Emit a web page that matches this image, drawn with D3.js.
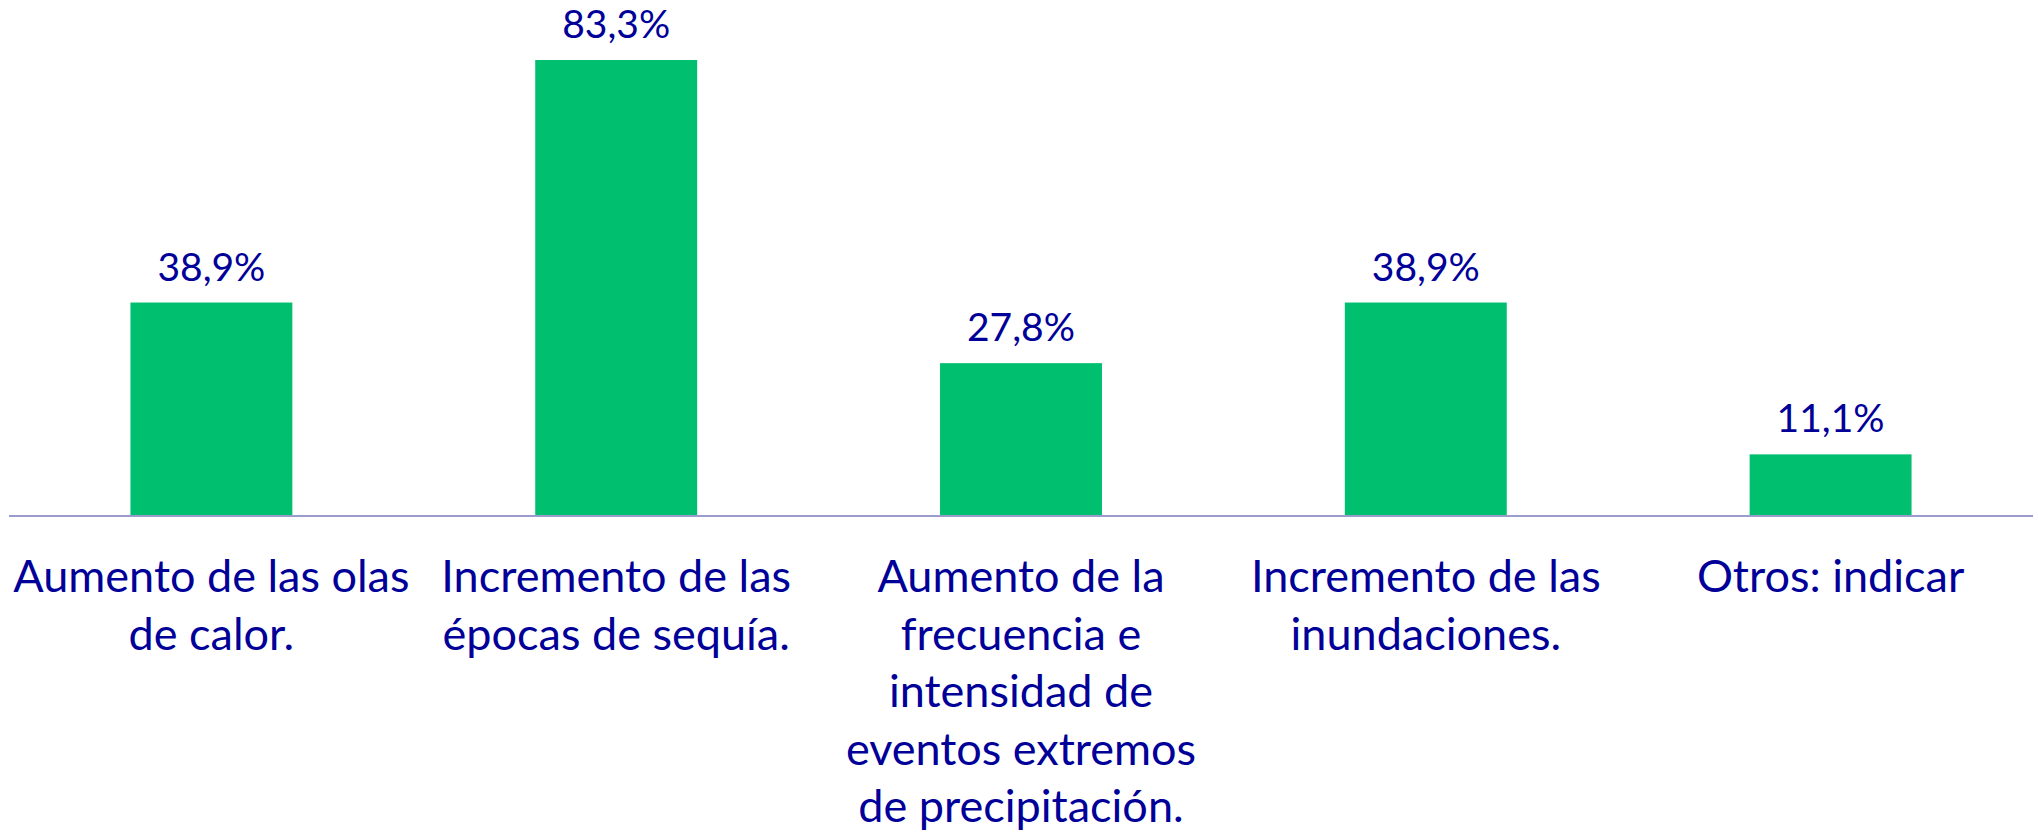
<!DOCTYPE html>
<html>
<head>
  <meta charset="UTF-8">
  <title>Impactos climáticos</title>
  <style>
    body { margin: 0; background: #fff; }
    .value { fill: #000099; text-anchor: middle; font-family: Lato, "Open Sans", sans-serif; }
    .cat { fill: #000099; text-anchor: middle; font-family: Lato, "Open Sans", sans-serif; }
  </style>
</head>
<body>
<svg></svg>
<script src="https://d3js.org/d3.v7.min.js"></script>
<script>

let width = 2038, height = 834;

// data
var categories = ["c1", "c2", "c3", "c4", "c5"];
var values = [38.9, 83.3, 27.8, 38.9, 11.1];
var valueLabels = ["38,9%", "83,3%", "27,8%", "38,9%", "11,1%"];
var catLabels = [
  ["Aumento de las olas", "de calor."],
  ["Incremento de las", "épocas de sequía."],
  ["Aumento de la", "frecuencia e", "intensidad de", "eventos extremos", "de precipitación."],
  ["Incremento de las", "inundaciones."],
  ["Otros: indicar"]
];

let svg = d3.select("svg")
    .attr("width", width)
    .attr("height", height);

let baseY = 515;

const x = d3.scaleBand()
    .domain(categories)
    .range([9, 2033])
    .paddingInner(0.6)
    .paddingOuter(0.3);

const y = d3.scaleLinear()
    .domain([0, 90])
    .range([baseY, baseY - 90 * 5.462]);

// bars
svg.append("g")
    .selectAll("rect")
    .data(values)
    .enter()
    .append("rect")
    .attr("x", (d, i) => x(categories[i]))
    .attr("y", d => y(d))
    .attr("width", x.bandwidth())
    .attr("height", d => y(0) - y(d))
    .attr("fill", "#00BF6F");

// baseline
svg.append("line")
    .attr("x1", 9).attr("x2", 2033)
    .attr("y1", y(0) + 1).attr("y2", y(0) + 1)
    .attr("stroke", "#9b9bcc")
    .attr("stroke-width", 2);

// value labels
svg.append("g")
    .selectAll("text")
    .data(values)
    .enter()
    .append("text")
    .attr("class", "value")
    .attr("x", (d, i) => x(categories[i]) + x.bandwidth() / 2)
    .attr("y", d => y(d) - 22)
    .style("font-size", "39px")
    .text((d, i) => valueLabels[i]);

// category labels, already wrapped like the original
let lab = svg.append("g")
    .selectAll("text")
    .data(catLabels)
    .enter()
    .append("text")
    .attr("class", "cat")
    .style("font-size", "45px")
    .attr("x", (d, i) => x(categories[i]) + x.bandwidth() / 2)
    .attr("y", 592);

lab.selectAll("tspan")
    .data(d => d)
    .enter()
    .append("tspan")
    .attr("x", function () { return d3.select(this.parentNode).attr("x"); })
    .attr("dy", (d, j) => j == 0 ? 0 : 57.5)
    .text(d => d);

</script>
</body>
</html>
